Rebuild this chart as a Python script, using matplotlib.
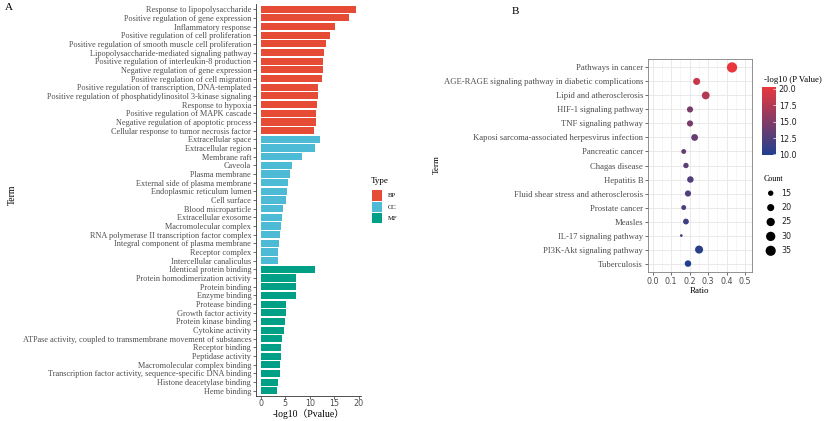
import matplotlib.pyplot as plt
import numpy as np
from matplotlib.colors import LinearSegmentedColormap, Normalize
from matplotlib.patches import Rectangle

# GO enrichment (panel A)
bp_terms = ['Response to lipopolysaccharide', 'Positive regulation of gene expression',
            'Inflammatory response', 'Positive regulation of cell proliferation',
            'Positive regulation of smooth muscle cell proliferation',
            'Lipopolysaccharide-mediated signaling pathway',
            'Positive regulation of interleukin-8 production',
            'Negative regulation of gene expression', 'Positive regulation of cell migration',
            'Positive regulation of transcription, DNA-templated',
            'Positive regulation of phosphatidylinositol 3-kinase signaling',
            'Response to hypoxia', 'Positive regulation of MAPK cascade',
            'Negative regulation of apoptotic process',
            'Cellular response to tumor necrosis factor']
bp_values = [19.5, 18.0, 15.2, 14.1, 13.3, 12.9, 12.8, 12.7, 12.5, 11.7, 11.6, 11.4, 11.3, 11.2, 10.8]

cc_terms = ['Extracellular space', 'Extracellular region', 'Membrane raft', 'Caveola',
            'Plasma membrane', 'External side of plasma membrane', 'Endoplasmic reticulum lumen',
            'Cell surface', 'Blood microparticle', 'Extracellular exosome',
            'Macromolecular complex', 'RNA polymerase II transcription factor complex',
            'Integral component of plasma membrane', 'Receptor complex',
            'Intercellular canaliculus']
cc_values = [12.0, 11.0, 8.5, 6.3, 6.0, 5.5, 5.45, 5.2, 4.6, 4.4, 4.2, 4.0, 3.8, 3.6, 3.55]

mf_terms = ['Identical protein binding', 'Protein homodimerization activity', 'Protein binding',
            'Enzyme binding', 'Protease binding', 'Growth factor activity',
            'Protein kinase binding', 'Cytokine activity',
            'ATPase activity, coupled to transmembrane movement of substances',
            'Receptor binding', 'Peptidase activity', 'Macromolecular complex binding',
            'Transcription factor activity, sequence-specific DNA binding',
            'Histone deacetylase binding', 'Heme binding']
mf_values = [11.0, 7.1, 7.1, 7.1, 5.2, 5.2, 4.85, 4.7, 4.35, 4.2, 4.1, 3.9, 3.9, 3.6, 3.35]

type_colors = {'BP': '#E64B35', 'CC': '#4DBBD5', 'MF': '#00A087'}

# KEGG enrichment (panel B)
kegg_terms = ['Pathways in cancer', 'AGE-RAGE signaling pathway in diabetic complications',
              'Lipid and atherosclerosis', 'HIF-1 signaling pathway', 'TNF signaling pathway',
              'Kaposi sarcoma-associated herpesvirus infection', 'Pancreatic cancer',
              'Chagas disease', 'Hepatitis B', 'Fluid shear stress and atherosclerosis',
              'Prostate cancer', 'Measles', 'IL-17 signaling pathway',
              'PI3K-Akt signaling pathway', 'Tuberculosis']
kegg_ratio = [0.429, 0.238, 0.287, 0.202, 0.202, 0.227, 0.168, 0.180, 0.204, 0.191,
              0.168, 0.180, 0.155, 0.251, 0.191]
kegg_count = [36, 20, 23, 17, 17, 19, 14, 15, 18, 17, 14, 16, 12, 24, 18]
kegg_logp = [20.3, 18.5, 17.5, 14.5, 14.5, 13.5, 13.5, 13.0, 12.5, 12.5, 12.0, 11.5, 11.5, 10.5, 9.9]
size_breaks = [15, 20, 25, 30, 35]

SERIF = 'Liberation Serif'
SANS = 'DejaVu Sans'
GREY = '#4d4d4d'

W, H = 825, 421
fig = plt.figure(figsize=(W / 100, H / 100), dpi=100)


def box(x0, y0, x1, y1):
    return [x0 / W, 1 - y1 / H, (x1 - x0) / W, (y1 - y0) / H]


# ---------- Panel A ----------
terms = bp_terms + cc_terms + mf_terms
values = bp_values + cc_values + mf_values
colors = ([type_colors['BP']] * len(bp_terms) + [type_colors['CC']] * len(cc_terms)
          + [type_colors['MF']] * len(mf_terms))
y = np.arange(len(terms))

axA = fig.add_axes(box(256, 4, 361, 396))
axA.barh(y, values, height=0.82, color=colors)
axA.set_ylim(len(terms) - 0.4, -0.6)
axA.set_xlim(-0.975, 20.475)
axA.set_yticks(y)
axA.set_yticklabels(terms, fontsize=5.95, family=SERIF, color=GREY)
axA.set_xticks([0, 5, 10, 15, 20])
axA.set_xticklabels(['0', '5', '10', '15', '20'], fontsize=5.8, family=SANS, color=GREY)
for s in ['top', 'right']:
    axA.spines[s].set_visible(False)
for s in ['left', 'bottom']:
    axA.spines[s].set_color('#333333')
    axA.spines[s].set_linewidth(0.6)
axA.tick_params(axis='y', length=2, width=0.5, pad=1.5, color='#333333')
axA.tick_params(axis='x', length=2, width=0.5, pad=0.5, color='#333333')
axA.set_xlabel('-log10（Pvalue）', fontsize=7, family=[SERIF, 'Noto Sans CJK SC'], labelpad=0)
fig.text(12 / W, 1 - 195 / H, 'Term', rotation=90, fontsize=7, family=SERIF,
         ha='center', va='center')
fig.text(5 / W, 1 - 8 / H, 'A', fontsize=8, family=SERIF, ha='left', va='center')

# Type legend
fig.text(371 / W, 1 - 181 / H, 'Type', fontsize=6.5, family=SERIF, ha='left', va='center')
for i, (k, c) in enumerate(type_colors.items()):
    top = 190.5 + 11.3 * i
    fig.add_artist(Rectangle((372 / W, 1 - (top + 10.2) / H), 10.3 / W, 10.2 / H,
                             transform=fig.transFigure, facecolor=c, edgecolor='none'))
    fig.text(387.5 / W, 1 - (top + 5.3) / H, k, fontsize=4.8, family=SERIF,
             ha='left', va='center')

# ---------- Panel B ----------
cmap = LinearSegmentedColormap.from_list('pv', ['#20408F', '#E8383D'])
norm = Normalize(vmin=9.9, vmax=20.3)

c_min, c_max = min(kegg_count), max(kegg_count)


def dot_size(c):
    d_px = 2.7 + 7.6 * np.sqrt((np.asarray(c, float) - c_min) / (c_max - c_min))
    return (d_px * 72 / 100) ** 2


yk = np.arange(len(kegg_terms))
axB = fig.add_axes(box(648, 59, 752, 272))
axB.set_axisbelow(True)
axB.set_xticks(np.arange(0, 0.51, 0.1))
axB.set_xticks(np.arange(0.05, 0.55, 0.1), minor=True)
axB.grid(True, which='major', color='#e6e6e6', linewidth=0.6)
axB.grid(True, which='minor', axis='x', color='#f0f0f0', linewidth=0.4)
axB.scatter(kegg_ratio, yk, s=dot_size(kegg_count), c=kegg_logp, cmap=cmap, norm=norm,
            edgecolors='none', zorder=3)
axB.set_xlim(-0.025, 0.537)
axB.set_ylim(len(kegg_terms) - 0.4, -0.6)
axB.set_yticks(yk)
axB.set_yticklabels(kegg_terms, fontsize=6.2, family=SERIF, color=GREY)
axB.set_xticklabels([f'{v:.1f}' for v in np.arange(0, 0.51, 0.1)], fontsize=5.8,
                    family=SANS, color=GREY)
for s in axB.spines.values():
    s.set_color('#808080')
    s.set_linewidth(0.6)
axB.tick_params(which='major', length=2, width=0.5, pad=1.5, color='#333333')
axB.tick_params(which='minor', length=0)
axB.set_xlabel('Ratio', fontsize=6.5, family=SERIF, labelpad=1)
fig.text(437 / W, 1 - 165 / H, 'Term', rotation=90, fontsize=6.5, family=SERIF,
         ha='center', va='center')
fig.text(512 / W, 1 - 12 / H, 'B', fontsize=8, family=SERIF, ha='left', va='center')

# colorbar
cax = fig.add_axes(box(762, 87, 776, 155))
sm = plt.cm.ScalarMappable(norm=norm, cmap=cmap)
cb = fig.colorbar(sm, cax=cax)
cb.outline.set_visible(False)
cb.set_ticks([10, 12.5, 15, 17.5, 20])
cb.ax.tick_params(length=2, width=0.5, color='white', direction='in', pad=2)
cb.ax.set_yticklabels(['10.0', '12.5', '15.0', '17.5', '20.0'], fontsize=5.8, family=SANS,
                      color='#222222')
fig.text(764 / W, 1 - 80 / H, '-log10 (P Value)', fontsize=6.3, family=SERIF,
         ha='left', va='center')

# size legend
sax = fig.add_axes(box(762, 186, 825, 258))
sax.scatter([0] * len(size_breaks), np.arange(len(size_breaks)), s=dot_size(size_breaks),
            color='black', edgecolors='none')
for i, b in enumerate(size_breaks):
    sax.text(1.0, i, str(b), fontsize=5.8, family=SANS, color='#222222', va='center')
sax.set_xlim(-0.8, 5)
sax.set_ylim(len(size_breaks) - 0.5, -0.5)
sax.axis('off')
fig.text(764 / W, 1 - 179 / H, 'Count', fontsize=5.8, family=SERIF, ha='left', va='center')

fig.savefig('out.png', dpi=100)
